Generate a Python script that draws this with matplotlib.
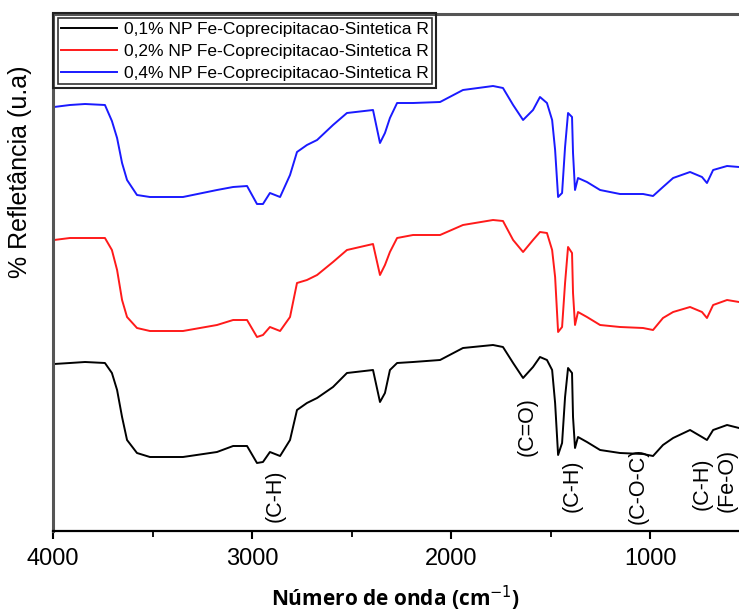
import numpy as np
import matplotlib
matplotlib.use('Agg')
import matplotlib.pyplot as plt
from matplotlib.patches import Rectangle

# numero de onda (cm-1)
wavenumber = [3995, 3915, 3839, 3739, 3704, 3678, 3653, 3628, 3578, 3513,
              3347, 3176, 3095, 3025, 2975, 2945, 2910, 2859, 2809, 2774,
              2724, 2673, 2593, 2523, 2392, 2357, 2332, 2307, 2271, 2191,
              2055, 1940, 1789, 1739, 1688, 1638, 1588, 1553, 1518, 1492,
              1477, 1462, 1442, 1427, 1412, 1392, 1387, 1377, 1362, 1317,
              1251, 1151, 1035, 985, 935, 884, 799, 739, 714, 683,
              613, 553]

# refletancia (u.a), curvas deslocadas como no original
refl_01 = [167, 168, 169, 168, 158, 141, 114, 91, 78, 74,
           74, 79, 85, 85, 68, 69, 79, 75, 91, 121,
           128, 133, 144, 158, 161, 129, 138, 161, 168, 169,
           171, 183, 186, 184, 168, 153, 164, 174, 171, 161,
           128, 76, 88, 134, 163, 158, 114, 83, 94, 89,
           81, 78, 77, 75, 86, 93, 101, 94, 91, 101,
           106, 103]
refl_02 = [291, 293, 293, 293, 281, 261, 231, 214, 203, 200,
           200, 206, 211, 211, 194, 196, 204, 200, 214, 248,
           251, 256, 269, 281, 287, 256, 266, 279, 293, 296,
           296, 306, 311, 310, 291, 279, 291, 299, 298, 281,
           254, 199, 204, 248, 284, 278, 238, 206, 219, 214,
           206, 204, 203, 201, 213, 219, 224, 219, 213, 226,
           231, 229]
refl_04 = [424, 426, 427, 426, 410, 393, 368, 351, 336, 334,
           334, 341, 344, 345, 327, 327, 338, 334, 356, 379,
           386, 391, 406, 418, 421, 388, 398, 413, 428, 428,
           429, 441, 445, 443, 426, 411, 421, 434, 428, 411,
           381, 334, 338, 384, 418, 414, 378, 341, 353, 349,
           341, 337, 337, 335, 344, 353, 359, 354, 348, 361,
           365, 364]

labels = ['0,1% NP Fe-Coprecipitacao-Sintetica R',
          '0,2% NP Fe-Coprecipitacao-Sintetica R',
          '0,4% NP Fe-Coprecipitacao-Sintetica R']

# bandas anotadas: (texto, numero de onda, altura)
bands = [('(C-H)', 2884, 35), ('(C=O)', 1618, 104), ('(C-H)', 1392, 45),
         ('(C-O-C)', 1060, 45), ('(C-H)', 739, 47), ('(Fe-O)', 613, 51)]

plt.rcParams['font.family'] = ['Liberation Sans', 'DejaVu Sans']

fig = plt.figure(figsize=(7.39, 6.13), dpi=100)
W, H = 739.0, 613.0
ax = fig.add_axes([53/W, 1-531/H, (739-53)/W, (531-14)/H])

ax.plot(wavenumber, refl_01, color='black', lw=1.4, label=labels[0])
ax.plot(wavenumber, refl_02, color='#ff1a1a', lw=1.4, label=labels[1])
ax.plot(wavenumber, refl_04, color='#1a1aff', lw=1.4, label=labels[2])

ax.set_xlim(4000, 553)
ax.set_ylim(0, 517)
ax.set_xticks([4000, 3000, 2000, 1000])
ax.set_xticks([3500, 2500, 1500], minor=True)
ax.set_yticks([])
ax.tick_params(axis='x', which='major', direction='out', length=6, width=1.5,
               labelsize=17, pad=6)
ax.tick_params(axis='x', which='minor', direction='out', length=4, width=1.3)

for s in ['left', 'top']:
    ax.spines[s].set_color('#555555')
    ax.spines[s].set_linewidth(2.2)
ax.spines['bottom'].set_linewidth(1.6)
ax.spines['right'].set_visible(False)

for txt, w, h in bands:
    ax.text(w, h, txt, rotation=90, ha='center', va='center', fontsize=15.5)

ax.set_xlabel('Número de onda (cm$^{-1}$)', fontsize=15, fontweight='bold',
              family='Open Sans', labelpad=10)
fig.text(20/W, 1-172/H, '% Refletância (u.a)', rotation=90, fontsize=18,
         ha='center', va='center')

leg = ax.legend(loc='upper left', bbox_to_anchor=(58/W, 1-18/H),
                bbox_transform=fig.transFigure, fontsize=12.5, frameon=True,
                fancybox=False, edgecolor='black', handlelength=3.2,
                handletextpad=0.4, borderpad=0.2, labelspacing=0.4,
                borderaxespad=0)
leg.get_frame().set_linewidth(1.2)

fig.canvas.draw()
bb = leg.get_window_extent()
x0, y0 = bb.x0 - 5, bb.y0 - 4
fig.patches.append(Rectangle((x0/W, y0/H), (bb.x1 + 4 - x0)/W, (bb.y1 + 5 - y0)/H,
                             transform=fig.transFigure, fill=False,
                             edgecolor='#222222', lw=1.5))

fig.savefig('out.png', dpi=100)
